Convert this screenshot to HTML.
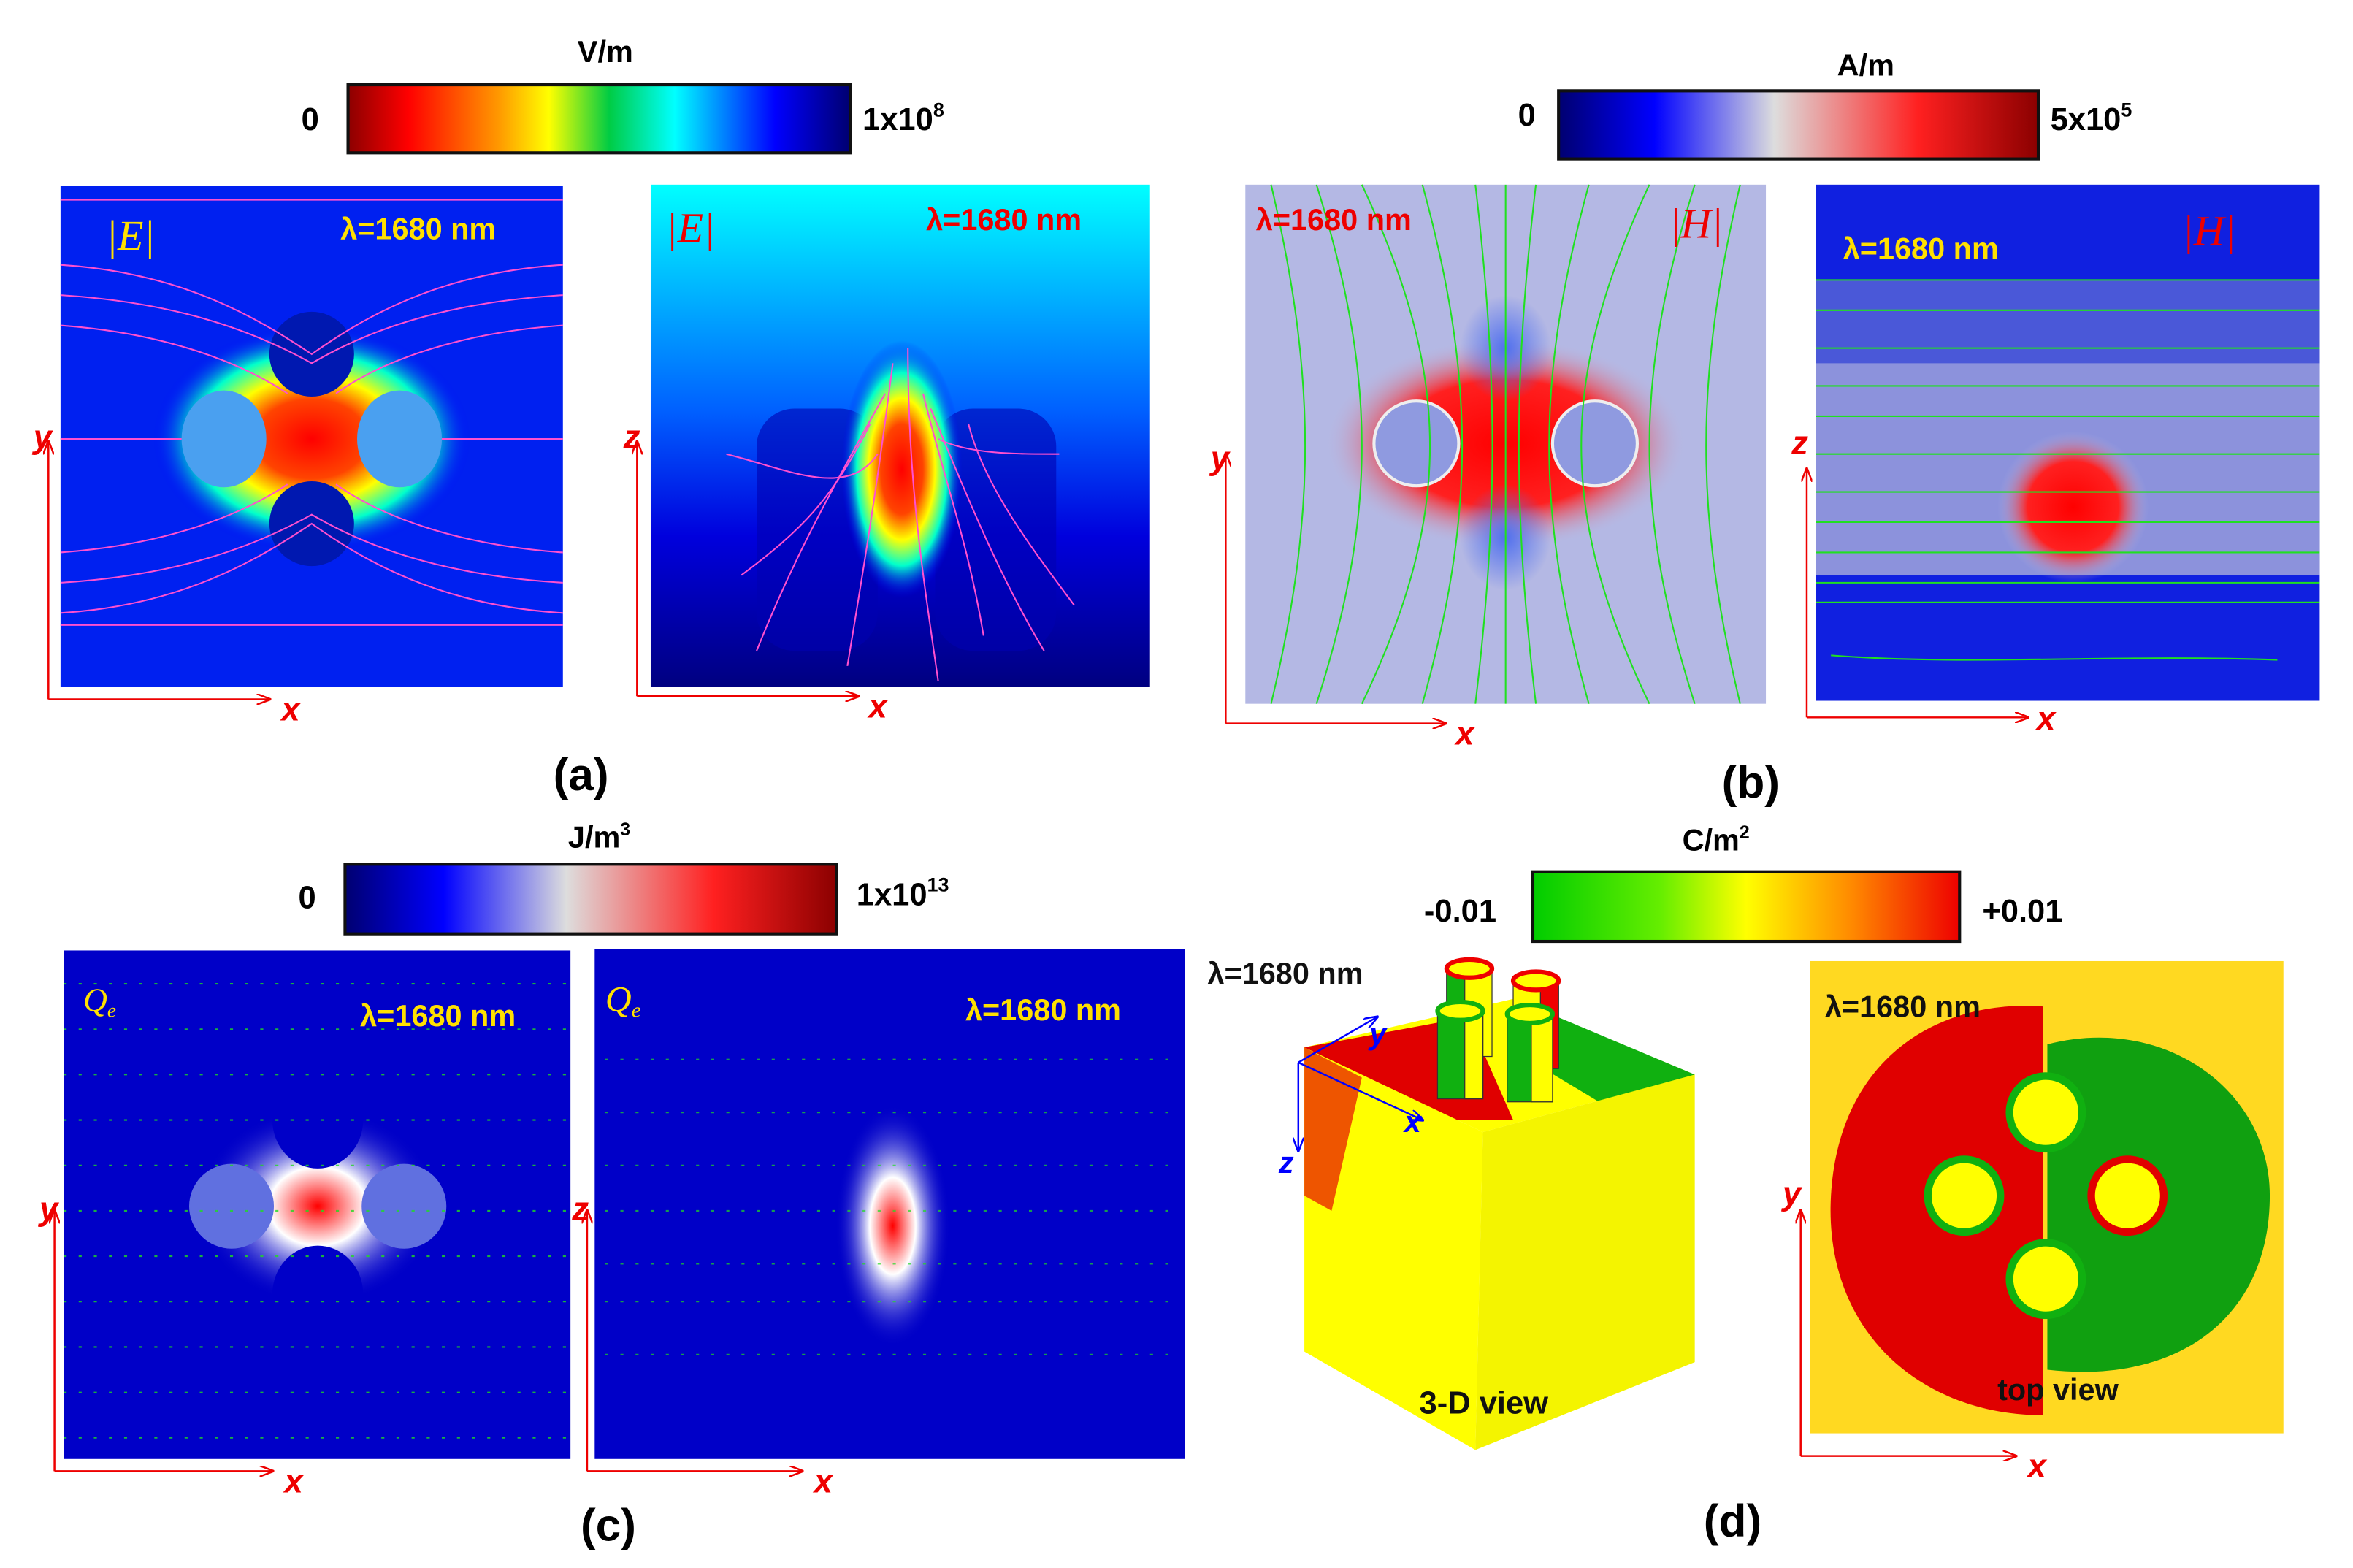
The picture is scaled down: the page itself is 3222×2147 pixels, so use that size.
<!DOCTYPE html>
<html><head><meta charset="utf-8"><style>
html,body{margin:0;padding:0;background:#fff}
svg{display:block}
text{font-family:"Liberation Sans",sans-serif;font-weight:bold}
.it{font-family:"Liberation Serif",serif;font-style:italic;font-weight:normal}
</style></head><body>
<svg width="3222" height="2147" viewBox="0 0 1555 1036" preserveAspectRatio="none" xmlns="http://www.w3.org/2000/svg">
<defs>
<linearGradient id="gE"><stop offset="0" stop-color="#8b0000"/><stop offset=".12" stop-color="#ff0000"/><stop offset=".3" stop-color="#ff9900"/><stop offset=".4" stop-color="#ffff00"/><stop offset=".52" stop-color="#00cc44"/><stop offset=".65" stop-color="#00ffff"/><stop offset=".85" stop-color="#0000ff"/><stop offset="1" stop-color="#000070"/></linearGradient>
<linearGradient id="gH"><stop offset="0" stop-color="#000070"/><stop offset=".2" stop-color="#0000ff"/><stop offset=".45" stop-color="#dddddd"/><stop offset=".75" stop-color="#ff2020"/><stop offset="1" stop-color="#8b0000"/></linearGradient>
<linearGradient id="gC"><stop offset="0" stop-color="#00cc00"/><stop offset=".3" stop-color="#66ee00"/><stop offset=".5" stop-color="#ffff00"/><stop offset=".75" stop-color="#ff8800"/><stop offset="1" stop-color="#ee0000"/></linearGradient>
<linearGradient id="gA2" x1="0" y1="0" x2="0" y2="1"><stop offset="0" stop-color="#00ffff"/><stop offset=".45" stop-color="#0060ff"/><stop offset=".7" stop-color="#0000dd"/><stop offset="1" stop-color="#000080"/></linearGradient>
<radialGradient id="hot"><stop offset="0" stop-color="#ff0000"/><stop offset=".35" stop-color="#ff4400"/><stop offset=".55" stop-color="#ffff00"/><stop offset=".75" stop-color="#00ffcc"/><stop offset="1" stop-color="#0000ff" stop-opacity="0"/></radialGradient>
<radialGradient id="redH"><stop offset="0" stop-color="#ff0000"/><stop offset=".6" stop-color="#ff2020"/><stop offset="1" stop-color="#b8bde6" stop-opacity="0"/></radialGradient>
<radialGradient id="whiteQ"><stop offset="0" stop-color="#ff0000"/><stop offset=".4" stop-color="#ffffff"/><stop offset="1" stop-color="#0000c8" stop-opacity="0"/></radialGradient>
<radialGradient id="blueBall"><stop offset="0" stop-color="#5070ee"/><stop offset="1" stop-color="#5070ee" stop-opacity="0"/></radialGradient>
<marker id="ar" markerWidth="8" markerHeight="6" refX="7" refY="3" orient="auto"><path d="M0,0L8,3L0,6" fill="none" stroke="#e00" stroke-width="1"/></marker>
<marker id="ab" markerWidth="8" markerHeight="6" refX="7" refY="3" orient="auto"><path d="M0,0L8,3L0,6" fill="none" stroke="#00f" stroke-width="1"/></marker>
</defs>

<!-- colorbar E -->
<g>
<text x="400" y="41" font-size="20" text-anchor="middle">V/m</text>
<rect x="230" y="56" width="332" height="45" fill="url(#gE)" stroke="#111" stroke-width="2"/>
<text x="205" y="86" font-size="21" text-anchor="middle">0</text>
<text x="570" y="86" font-size="21">1x10<tspan font-size="13" dy="-9">8</tspan></text>
</g>
<!-- a1 -->
<g>
<rect x="40" y="123" width="332" height="331" fill="#0020f0"/>
<ellipse cx="206" cy="290" rx="105" ry="75" fill="url(#hot)"/>
<ellipse cx="148" cy="290" rx="28" ry="32" fill="#4aa0f0"/>
<ellipse cx="264" cy="290" rx="28" ry="32" fill="#4aa0f0"/>
<ellipse cx="206" cy="234" rx="28" ry="28" fill="#0018b0"/>
<ellipse cx="206" cy="346" rx="28" ry="28" fill="#0018b0"/>
<g fill="none" stroke="#ff50d0" stroke-width="1">
<path d="M40,175 C120,180 170,210 206,234 C240,210 290,180 372,175"/>
<path d="M40,195 C120,200 170,220 206,240 C240,220 290,200 372,195"/>
<path d="M40,215 C110,220 160,240 190,260"/><path d="M372,215 C300,220 250,240 222,260"/>
<path d="M40,405 C120,400 170,370 206,346 C240,370 290,400 372,405"/>
<path d="M40,385 C120,380 170,360 206,340 C240,360 290,380 372,385"/>
<path d="M40,365 C110,360 160,340 190,320"/><path d="M372,365 C300,360 250,340 222,320"/>
<path d="M40,132 L372,132"/><path d="M40,413 L372,413"/>
<path d="M40,290 L120,290"/><path d="M292,290 L372,290"/>
</g>
<text x="70" y="165" font-size="28" fill="#ffe000" class="it">|E|</text>
<text x="225" y="158" font-size="20" fill="#ffe000">λ=1680 nm</text>
</g>
<!-- a2 -->
<g>
<rect x="430" y="122" width="330" height="332" fill="url(#gA2)"/>
<rect x="500" y="270" width="80" height="160" rx="25" fill="#0000b0" opacity=".6"/>
<rect x="618" y="270" width="80" height="160" rx="25" fill="#0000b0" opacity=".6"/>
<ellipse cx="596" cy="310" rx="40" ry="85" fill="url(#hot)"/>
<g fill="none" stroke="#ff50d0" stroke-width="1">
<path d="M480,300 C520,310 560,330 580,300"/><path d="M490,380 C530,350 550,330 575,280"/>
<path d="M500,430 C520,380 540,340 585,260"/><path d="M560,440 C570,380 580,320 590,240"/>
<path d="M620,450 C610,380 600,320 600,230"/><path d="M690,430 C660,380 640,330 615,270"/>
<path d="M710,400 C680,360 650,320 640,280"/><path d="M700,300 C670,300 640,300 620,290"/>
<path d="M650,420 C640,360 625,320 610,260"/>
</g>
<text x="440" y="160" font-size="28" fill="#e00" class="it">|E|</text>
<text x="612" y="152" font-size="20" fill="#e00">λ=1680 nm</text>
</g>
<g stroke="#e00" stroke-width="1.2" fill="none">
<path d="M32,462 L32,292" marker-end="url(#ar)"/><path d="M32,462 L178,462" marker-end="url(#ar)"/>
<path d="M421,460 L421,292" marker-end="url(#ar)"/><path d="M421,460 L567,460" marker-end="url(#ar)"/>
</g>
<g class="it" font-size="22" fill="#e00"><text x="22" y="296">y</text><text x="186" y="476">x</text><text x="412" y="296">z</text><text x="574" y="474">x</text></g>
<text x="384" y="522" font-size="30" text-anchor="middle">(a)</text>

<!-- colorbar H -->
<g>
<text x="1233" y="50" font-size="20" text-anchor="middle">A/m</text>
<rect x="1030" y="60" width="317" height="45" fill="url(#gH)" stroke="#111" stroke-width="2"/>
<text x="1009" y="83" font-size="21" text-anchor="middle">0</text>
<text x="1355" y="86" font-size="21">5x10<tspan font-size="13" dy="-9">5</tspan></text>
</g>
<g>
<rect x="823" y="122" width="344" height="343" fill="#b4b8e4"/>
<ellipse cx="995" cy="293" rx="120" ry="70" fill="url(#redH)"/>
<ellipse cx="995" cy="230" rx="30" ry="35" fill="url(#blueBall)"/>
<ellipse cx="995" cy="355" rx="30" ry="35" fill="url(#blueBall)"/>
<circle cx="936" cy="293" r="28" fill="#8f9ae0" stroke="#eee" stroke-width="2"/>
<circle cx="1054" cy="293" r="28" fill="#8f9ae0" stroke="#eee" stroke-width="2"/>
<g fill="none" stroke="#20e020" stroke-width="1">
<path d="M840,122 C870,250 870,340 840,465"/><path d="M870,122 C910,250 910,340 870,465"/>
<path d="M900,122 C960,250 960,340 900,465"/><path d="M940,122 C975,250 975,340 940,465"/>
<path d="M975,122 C990,250 990,340 975,465"/><path d="M995,122 L995,465"/>
<path d="M1015,122 C1000,250 1000,340 1015,465"/><path d="M1050,122 C1015,250 1015,340 1050,465"/>
<path d="M1090,122 C1030,250 1030,340 1090,465"/><path d="M1120,122 C1080,250 1080,340 1120,465"/>
<path d="M1150,122 C1120,250 1120,340 1150,465"/>
</g>
<text x="830" y="152" font-size="20" fill="#e00">λ=1680 nm</text>
<text x="1103" y="157" font-size="28" fill="#e00" class="it">|H|</text>
</g>
<g>
<rect x="1200" y="122" width="333" height="341" fill="#1020e0"/>
<rect x="1200" y="185" width="333" height="195" fill="#4a58d8"/>
<rect x="1200" y="240" width="333" height="140" fill="#8c92dc"/>
<ellipse cx="1370" cy="335" rx="50" ry="50" fill="url(#redH)"/>
<g stroke="#20e020" stroke-width="1">
<line x1="1200" y1="185" x2="1533" y2="185"/><line x1="1200" y1="205" x2="1533" y2="205"/>
<line x1="1200" y1="230" x2="1533" y2="230"/><line x1="1200" y1="255" x2="1533" y2="255"/>
<line x1="1200" y1="275" x2="1533" y2="275"/><line x1="1200" y1="300" x2="1533" y2="300"/>
<line x1="1200" y1="325" x2="1533" y2="325"/><line x1="1200" y1="345" x2="1533" y2="345"/>
<line x1="1200" y1="365" x2="1533" y2="365"/><line x1="1200" y1="385" x2="1533" y2="385"/>
<line x1="1200" y1="398" x2="1533" y2="398"/>
<path d="M1210,433 C1300,440 1400,432 1505,436" fill="none"/>
</g>
<text x="1218" y="171" font-size="20" fill="#ffe000">λ=1680 nm</text>
<text x="1442" y="162" font-size="28" fill="#e00" class="it">|H|</text>
</g>
<g stroke="#e00" stroke-width="1.2" fill="none">
<path d="M810,478 L810,300" marker-end="url(#ar)"/><path d="M810,478 L955,478" marker-end="url(#ar)"/>
<path d="M1194,474 L1194,310" marker-end="url(#ar)"/><path d="M1194,474 L1340,474" marker-end="url(#ar)"/>
</g>
<g class="it" font-size="22" fill="#e00"><text x="800" y="310">y</text><text x="962" y="492">x</text><text x="1184" y="300">z</text><text x="1346" y="482">x</text></g>
<text x="1157" y="527" font-size="30" text-anchor="middle">(b)</text>

<!-- colorbar J -->
<g>
<text x="396" y="560" font-size="20" text-anchor="middle">J/m<tspan font-size="12" dy="-8">3</tspan></text>
<rect x="228" y="571" width="325" height="46" fill="url(#gH)" stroke="#111" stroke-width="2"/>
<text x="203" y="600" font-size="21" text-anchor="middle">0</text>
<text x="566" y="598" font-size="21">1x10<tspan font-size="13" dy="-9">13</tspan></text>
</g>
<g>
<rect x="42" y="628" width="335" height="336" fill="#0000c8"/>
<ellipse cx="210" cy="797" rx="80" ry="65" fill="url(#whiteQ)"/>
<circle cx="153" cy="797" r="28" fill="#6070e0"/>
<circle cx="267" cy="797" r="28" fill="#6070e0"/>
<ellipse cx="210" cy="740" rx="30" ry="32" fill="#0000c8"/>
<ellipse cx="210" cy="855" rx="30" ry="32" fill="#0000c8"/>
<g stroke="#20dd20" stroke-width="1" stroke-dasharray="2 8" opacity=".8">
<line x1="42" y1="650" x2="377" y2="650"/><line x1="42" y1="680" x2="377" y2="680"/><line x1="42" y1="710" x2="377" y2="710"/><line x1="42" y1="740" x2="377" y2="740"/><line x1="42" y1="770" x2="377" y2="770"/><line x1="42" y1="800" x2="377" y2="800"/><line x1="42" y1="830" x2="377" y2="830"/><line x1="42" y1="860" x2="377" y2="860"/><line x1="42" y1="890" x2="377" y2="890"/><line x1="42" y1="920" x2="377" y2="920"/><line x1="42" y1="950" x2="377" y2="950"/>
</g>
<text x="55" y="668" font-size="22" fill="#ffe000" class="it">Q<tspan font-size="13" dy="4">e</tspan></text>
<text x="238" y="678" font-size="20" fill="#ffe000">λ=1680 nm</text>
</g>
<g>
<rect x="393" y="627" width="390" height="337" fill="#0000c8"/>
<ellipse cx="590" cy="810" rx="38" ry="80" fill="url(#whiteQ)"/>
<g stroke="#20dd20" stroke-width="1" stroke-dasharray="2 8" opacity=".7">
<line x1="400" y1="700" x2="780" y2="700"/><line x1="400" y1="735" x2="780" y2="735"/><line x1="400" y1="770" x2="780" y2="770"/><line x1="400" y1="800" x2="780" y2="800"/><line x1="400" y1="835" x2="780" y2="835"/><line x1="400" y1="860" x2="780" y2="860"/><line x1="400" y1="895" x2="780" y2="895"/>
</g>
<text x="400" y="668" font-size="24" fill="#ffe000" class="it">Q<tspan font-size="14" dy="4">e</tspan></text>
<text x="638" y="674" font-size="20" fill="#ffe000">λ=1680 nm</text>
</g>
<g stroke="#e00" stroke-width="1.2" fill="none">
<path d="M36,972 L36,800" marker-end="url(#ar)"/><path d="M36,972 L180,972" marker-end="url(#ar)"/>
<path d="M388,972 L388,800" marker-end="url(#ar)"/><path d="M388,972 L530,972" marker-end="url(#ar)"/>
</g>
<g class="it" font-size="22" fill="#e00"><text x="26" y="806">y</text><text x="188" y="986">x</text><text x="378" y="806">z</text><text x="538" y="986">x</text></g>
<text x="402" y="1018" font-size="30" text-anchor="middle">(c)</text>

<!-- colorbar C -->
<g>
<text x="1134" y="562" font-size="20" text-anchor="middle">C/m<tspan font-size="12" dy="-8">2</tspan></text>
<rect x="1013" y="576" width="282" height="46" fill="url(#gC)" stroke="#111" stroke-width="2"/>
<text x="965" y="609" font-size="21" text-anchor="middle">-0.01</text>
<text x="1310" y="609" font-size="21">+0.01</text>
</g>
<g>
<polygon points="862,692 1000,660 1120,710 980,748" fill="#ffff00"/>
<polygon points="862,692 970,672 1000,740 900,740" fill="#e00000"/>
<polygon points="1020,668 1120,710 1060,730 1010,700" fill="#10b010"/>
<polygon points="862,692 980,748 975,958 862,893" fill="#ffff00"/>
<polygon points="862,692 900,712 880,800 862,790" fill="#ee5500"/>
<polygon points="980,748 1120,710 1120,900 975,958" fill="#f4f400"/>
<g stroke="#333" stroke-width=".6">
<rect x="956" y="640" width="30" height="58" fill="#ffff00"/><rect x="956" y="640" width="12" height="58" fill="#10b010"/><ellipse cx="971" cy="640" rx="15" ry="6" fill="#ff0" stroke="#e00" stroke-width="3"/>
<rect x="1000" y="648" width="30" height="58" fill="#ffff00"/><rect x="1018" y="648" width="12" height="58" fill="#e00"/><ellipse cx="1015" cy="648" rx="15" ry="6" fill="#ff0" stroke="#e00" stroke-width="3"/>
<rect x="950" y="668" width="30" height="58" fill="#10b010"/><rect x="968" y="668" width="12" height="58" fill="#ffff00"/><ellipse cx="965" cy="668" rx="15" ry="6" fill="#ff0" stroke="#10b010" stroke-width="3"/>
<rect x="996" y="670" width="30" height="58" fill="#10b010"/><rect x="1012" y="670" width="14" height="58" fill="#ffff00"/><ellipse cx="1011" cy="670" rx="15" ry="6" fill="#ff0" stroke="#10b010" stroke-width="3"/>
</g>
<g stroke="#00f" stroke-width="1.2" fill="none">
<path d="M858,702 L858,760" marker-end="url(#ab)"/><path d="M858,702 L910,672" marker-end="url(#ab)"/><path d="M858,702 L940,740" marker-end="url(#ab)"/>
</g>
<g class="it" font-size="20" fill="#00f"><text x="845" y="775">z</text><text x="905" y="690">y</text><text x="928" y="748">x</text></g>
<text x="798" y="650" font-size="20" fill="#111">λ=1680 nm</text>
<text x="938" y="934" font-size="21" fill="#111">3-D view</text>
</g>
<g>
<rect x="1196" y="635" width="313" height="312" fill="#ffee30"/>
<rect x="1196" y="635" width="313" height="312" fill="#ffaa00" opacity=".3"/>
<path d="M1350,665 C1280,660 1215,700 1210,790 C1205,880 1270,935 1350,935 Z" fill="#e00000"/>
<path d="M1353,690 C1430,670 1500,720 1500,790 C1500,870 1440,915 1353,905 Z" fill="#10a010"/>
<g stroke-width="5">
<circle cx="1352" cy="735" r="24" fill="#ffff00" stroke="#10b010"/><circle cx="1352" cy="845" r="24" fill="#ffff00" stroke="#10b010"/>
<circle cx="1298" cy="790" r="24" fill="#ffff00" stroke="#10b010"/><circle cx="1406" cy="790" r="24" fill="#ffff00" stroke="#e00000"/>
</g>
<text x="1206" y="672" font-size="20" fill="#111">λ=1680 nm</text>
<text x="1320" y="925" font-size="20" fill="#111">top view</text>
</g>
<g stroke="#e00" stroke-width="1.2" fill="none">
<path d="M1190,962 L1190,800" marker-end="url(#ar)"/><path d="M1190,962 L1332,962" marker-end="url(#ar)"/>
</g>
<g class="it" font-size="22" fill="#e00"><text x="1178" y="796">y</text><text x="1340" y="976">x</text></g>
<text x="1145" y="1015" font-size="30" text-anchor="middle">(d)</text>
</svg>
</body></html>
